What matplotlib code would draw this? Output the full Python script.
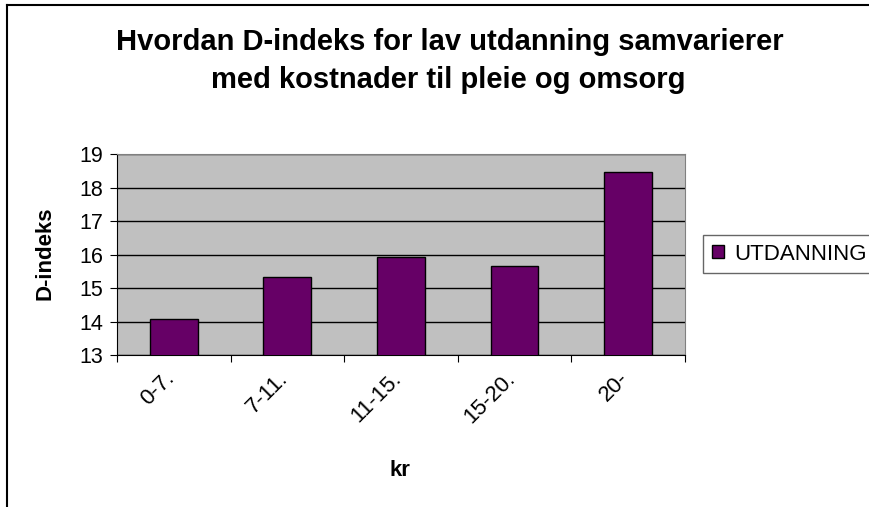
import matplotlib
matplotlib.use("Agg")
import matplotlib.pyplot as plt
from matplotlib.lines import Line2D
from matplotlib.transforms import ScaledTranslation

categories = ["0-7.", "7-11.", "11-15.", "15-20.", "20-"]
values = [14.09, 15.34, 15.93, 15.66, 18.47]
series_name = "UTDANNING"
yticks = [13, 14, 15, 16, 17, 18, 19]

plt.rcParams['font.family'] = ['Liberation Sans', 'DejaVu Sans']

fig = plt.figure(figsize=(8.7, 5.07), dpi=100)
ax = fig.add_axes([0.1345, 0.2998, 0.787 - 0.1345, 0.696 - 0.2998])
ax.set_facecolor('#C0C0C0')

x = range(len(categories))
ax.bar(x, values, width=0.42, color='#660066', edgecolor='black', linewidth=1.0,
       label=series_name, zorder=3)
ax.set_xlim(-0.5, len(categories) - 0.5)
ax.set_ylim(13, 19)
ax.set_yticks(yticks)
ax.set_yticklabels([str(t) for t in yticks], fontsize=15.5)
ax.yaxis.grid(True, color='black', linewidth=1.0, zorder=1)
ax.set_axisbelow(True)

ax.set_xticks([i - 0.5 for i in range(len(categories) + 1)], minor=False)
ax.set_xticklabels([''] * (len(categories) + 1))
ax.set_xticks(list(x), minor=True)
ax.set_xticklabels(categories, minor=True, rotation=45, ha='right',
                   rotation_mode='anchor', fontsize=16)
ax.tick_params(axis='x', which='minor', length=0, pad=8)
ax.tick_params(axis='x', which='major', length=5, direction='out', color='black')
ax.tick_params(axis='y', length=5, direction='out', color='black', pad=5)
shift = ScaledTranslation(-10 / 100, -2 / 100, fig.dpi_scale_trans)
for lbl in ax.get_xticklabels(minor=True):
    lbl.set_transform(lbl.get_transform() + shift)

for s in ['top', 'right']:
    ax.spines[s].set_color('#808080')
for s in ['left', 'bottom']:
    ax.spines[s].set_color('black')

fig.text(45 / 870, 1 - 253 / 507, 'D-indeks', fontsize=16, fontweight='bold',
         ha='center', va='center', rotation=90)
fig.text(400 / 870, 1 - 470 / 507, 'kr', fontsize=16, fontweight='bold',
         ha='center', va='center')

fig.text(0.517, 1 - 42 / 507, 'Hvordan D-indeks for lav utdanning samvarierer', fontsize=21,
         fontweight='bold', ha='center', va='center')
fig.text(0.515, 1 - 80 / 507, 'med kostnader til pleie og omsorg', fontsize=21,
         fontweight='bold', ha='center', va='center')

handle = plt.Rectangle((0, 0), 1, 1, facecolor='#660066', edgecolor='black')
leg = fig.legend([handle], [series_name], loc='center left',
                 bbox_to_anchor=(703 / 870, 1 - 254 / 507), fontsize=16, frameon=True,
                 fancybox=False, edgecolor='#404040', handlelength=0.55,
                 handleheight=0.55, handletextpad=0.45, borderpad=0.4,
                 borderaxespad=0)
leg.get_frame().set_linewidth(1.0)

# outer chart border (top and left visible)
fig.add_artist(Line2D([0.008, 1.0], [0.991, 0.991], transform=fig.transFigure,
                      color='black', linewidth=1.5))
fig.add_artist(Line2D([0.008, 0.008], [0.0, 0.991], transform=fig.transFigure,
                      color='black', linewidth=1.5))

fig.savefig('out.png', dpi=100)
